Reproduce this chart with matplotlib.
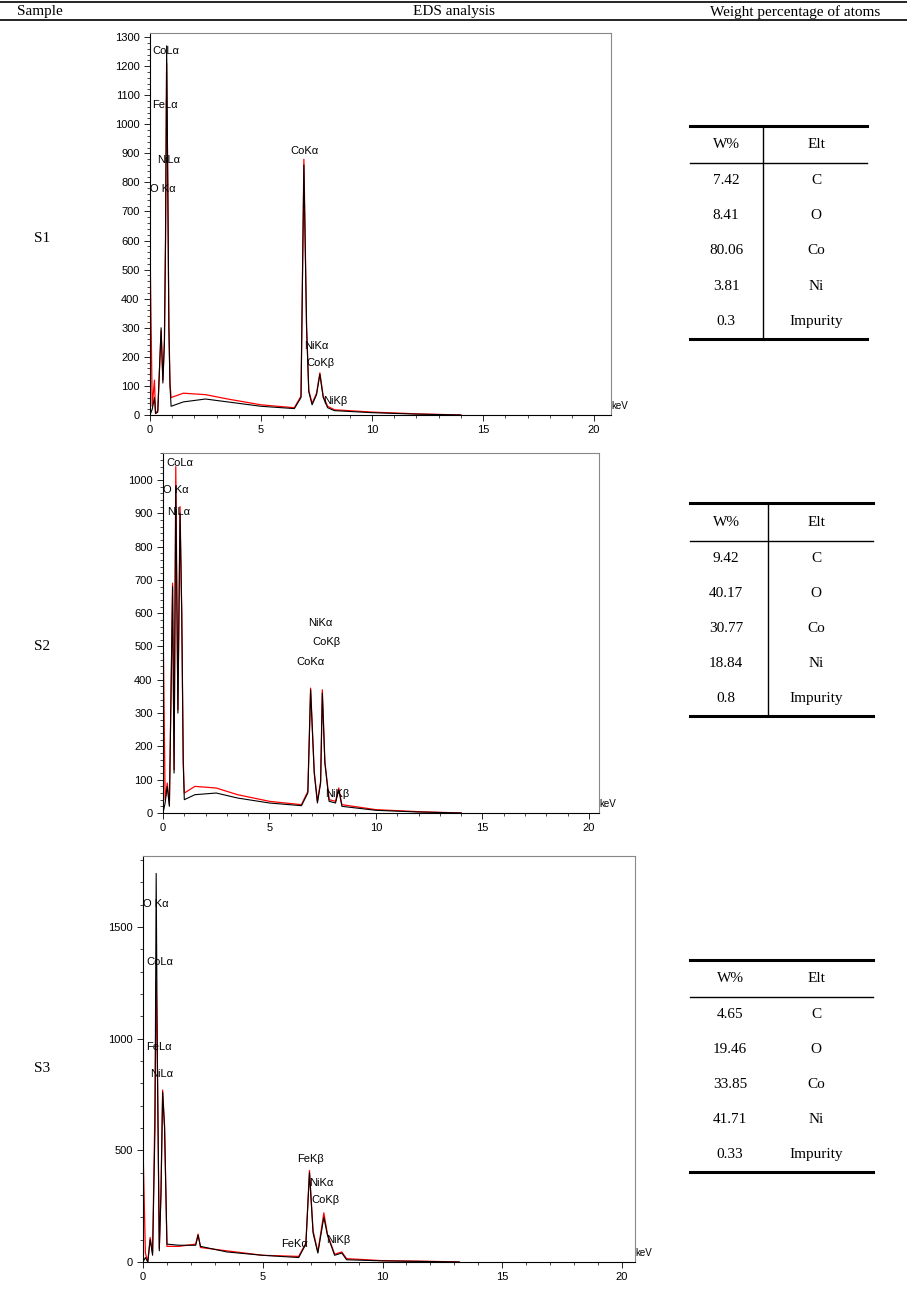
import matplotlib.pyplot as plt
from matplotlib.ticker import MultipleLocator

W, H = 907, 1297

# spectra (keV, counts)
s1_kev = [0, 0.1, 0.2, 0.25, 0.35, 0.5, 0.58, 0.65, 0.7, 0.75, 0.8, 0.85, 0.9, 0.95, 1.5, 2.5, 3.5, 5, 6.5, 6.8, 6.93, 7.05, 7.15, 7.3, 7.5, 7.65, 7.8, 8.0, 8.3, 10, 12, 14]
s1_blk = [0, 20, 60, 5, 10, 300, 110, 250, 600, 1270, 800, 300, 100, 30, 45, 55, 45, 30, 22, 60, 860, 300, 80, 35, 70, 140, 60, 25, 15, 8, 3, 0]
s1_red = [590, 30, 120, 5, 15, 290, 120, 260, 620, 1210, 800, 310, 110, 60, 75, 70, 55, 35, 25, 65, 880, 310, 85, 40, 75, 145, 65, 30, 18, 10, 4, 0]

s2_kev = [0, 0.1, 0.2, 0.3, 0.45, 0.52, 0.6, 0.7, 0.8, 0.88, 0.95, 1.0, 1.5, 2.5, 3.5, 5, 6.5, 6.8, 6.93, 7.1, 7.25, 7.4, 7.48, 7.6, 7.8, 8.1, 8.25, 8.4, 10, 12, 14]
s2_blk = [0, 30, 80, 20, 680, 120, 980, 300, 900, 600, 150, 40, 55, 60, 45, 30, 22, 60, 370, 120, 30, 90, 360, 150, 35, 30, 70, 20, 8, 3, 0]
s2_red = [590, 40, 90, 25, 690, 130, 1040, 310, 920, 600, 160, 60, 80, 75, 55, 35, 25, 65, 375, 125, 35, 95, 370, 155, 40, 35, 75, 25, 10, 4, 0]

s3_kev = [0, 0.1, 0.2, 0.3, 0.4, 0.5, 0.55, 0.6, 0.68, 0.75, 0.82, 0.9, 1.0, 1.5, 2.2, 2.3, 2.4, 3.5, 5, 6.5, 6.8, 6.95, 7.1, 7.3, 7.55, 7.7, 8.0, 8.3, 8.5, 10, 12, 13.2]
s3_blk = [0, 20, 0, 100, 30, 600, 1740, 900, 50, 300, 760, 600, 80, 75, 75, 120, 70, 45, 30, 20, 80, 400, 130, 40, 200, 120, 30, 40, 10, 5, 2, 0]
s3_red = [520, 40, 0, 110, 40, 700, 1260, 900, 60, 310, 770, 610, 70, 70, 80, 125, 65, 50, 30, 25, 85, 410, 140, 45, 220, 125, 35, 45, 15, 6, 3, 0]

s1_labels = [("CoLα", 0.1, 1235), ("FeLα", 0.1, 1050), ("NiLα", 0.3, 860), ("O Kα", 0.0, 760),
             ("CoKα", 6.3, 890), ("NiKα", 6.95, 220), ("CoKβ", 7.05, 160), ("NiKβ", 7.8, 30)]
s2_labels = [("CoLα", 0.15, 1035), ("O Kα", 0.0, 955), ("NiLα", 0.2, 890),
             ("NiKα", 6.8, 555), ("CoKβ", 7.0, 498), ("CoKα", 6.25, 437), ("NiKβ", 7.6, 42)]
s3_labels = [("O Kα", 0.0, 1580), ("CoLα", 0.15, 1320), ("FeLα", 0.15, 940), ("NiLα", 0.3, 820),
             ("FeKβ", 6.45, 440), ("NiKα", 6.95, 330), ("CoKβ", 7.05, 255), ("NiKβ", 7.65, 75), ("FeKα", 5.75, 60)]

weights = [["7.42", "8.41", "80.06", "3.81", "0.3"],
           ["9.42", "40.17", "30.77", "18.84", "0.8"],
           ["4.65", "19.46", "33.85", "41.71", "0.33"]]
elements = ["C", "O", "Co", "Ni", "Impurity"]
samples = ["S1", "S2", "S3"]

fig = plt.figure(figsize=(W / 100, H / 100), dpi=100)
serif = "Liberation Serif"
sans = "Liberation Sans"


def fx(px):
    return px / W


def fy(py):
    return 1 - py / H


# header
fig.add_artist(plt.Line2D([0, 1], [fy(2), fy(2)], color="black", lw=1.2))
fig.add_artist(plt.Line2D([0, 1], [fy(20), fy(20)], color="black", lw=1.2))
fig.text(fx(40), fy(12), "Sample", ha="center", va="center", fontsize=11, family=serif)
fig.text(fx(454), fy(12), "EDS analysis", ha="center", va="center", fontsize=11, family=serif)
fig.text(fx(795), fy(12), "Weight percentage of atoms", ha="center", va="center", fontsize=11, family=serif)

# axes boxes in pixels: left, right, top, bottom, xmax, ymax, ytick major, label step
boxes = [(150, 611, 33, 415, 20.76, 1314, 100, 20),
         (163, 599, 453, 813, 20.47, 1081, 100, 20),
         (143, 635, 856, 1262, 20.54, 1818, 500, 100)]
spectra = [(s1_kev, s1_blk, s1_red, s1_labels),
           (s2_kev, s2_blk, s2_red, s2_labels),
           (s3_kev, s3_blk, s3_red, s3_labels)]

for (l, r, t, b, xmax, ymax, major, minor), (kev, blk, red, labels) in zip(boxes, spectra):
    ax = fig.add_axes([fx(l), fy(b), fx(r - l), (b - t) / H])
    ax.plot(kev, red, color="red", lw=0.9)
    ax.plot(kev, blk, color="black", lw=0.8)
    ax.set_xlim(0, xmax)
    ax.set_ylim(0, ymax)
    ax.xaxis.set_major_locator(MultipleLocator(5))
    ax.xaxis.set_minor_locator(MultipleLocator(1))
    ax.yaxis.set_major_locator(MultipleLocator(major))
    ax.yaxis.set_minor_locator(MultipleLocator(minor))
    ax.tick_params(labelsize=8, length=4, width=0.6)
    ax.tick_params(which="minor", length=2, width=0.5)
    for lab in ax.get_xticklabels() + ax.get_yticklabels():
        lab.set_family(sans)
    for side in ["top", "right"]:
        ax.spines[side].set_color("#888888")
    for txt, x, y in labels:
        ax.text(x, y, txt, fontsize=8, family=sans, va="bottom")
    ax.text(1.0, 0.01, "keV", transform=ax.transAxes, fontsize=7, family=sans, va="bottom", ha="left")

# sample labels
for s, py in zip(samples, [238, 647, 1068]):
    fig.text(fx(42), fy(py), s, ha="center", va="center", fontsize=11, family=serif)

# tables: left, right, top, header, bottom, vertical line x
tables = [(690, 867, 126, 163, 339, 763),
          (690, 873, 503, 541, 716, 768),
          (690, 873, 960, 997, 1172, None)]
for (l, r, t, hd, b, vx), w in zip(tables, weights):
    fig.add_artist(plt.Line2D([fx(l), fx(r)], [fy(t), fy(t)], color="black", lw=2.2))
    fig.add_artist(plt.Line2D([fx(l), fx(r)], [fy(hd), fy(hd)], color="black", lw=1))
    fig.add_artist(plt.Line2D([fx(l), fx(r)], [fy(b), fy(b)], color="black", lw=2.2))
    if vx:
        fig.add_artist(plt.Line2D([fx(vx), fx(vx)], [fy(t), fy(b)], color="black", lw=1))
    c1 = 726 if vx else 730
    c2 = 816
    fig.text(fx(c1), fy((t + hd) / 2), "W%", ha="center", va="center", fontsize=11, family=serif)
    fig.text(fx(c2), fy((t + hd) / 2), "Elt", ha="center", va="center", fontsize=11, family=serif)
    step = (b - hd) / 5
    for i, (v, e) in enumerate(zip(w, elements)):
        py = hd + step * (i + 0.5)
        fig.text(fx(c1), fy(py), v, ha="center", va="center", fontsize=11, family=serif)
        fig.text(fx(c2), fy(py), e, ha="center", va="center", fontsize=11, family=serif)

fig.savefig("out.png", dpi=100)
